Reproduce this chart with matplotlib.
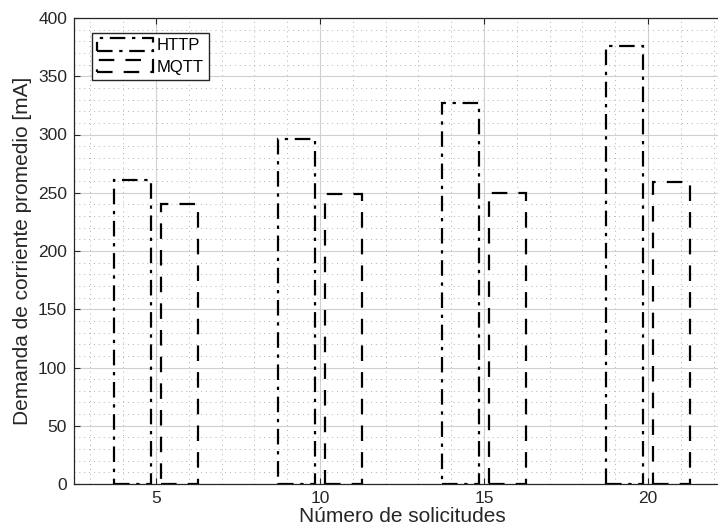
import matplotlib
matplotlib.use("Agg")
import matplotlib.pyplot as plt
import numpy as np
from matplotlib.ticker import MultipleLocator

# datos
solicitudes = [5, 10, 15, 20]
http = [261, 296, 327, 376]
mqtt = [240, 249, 250, 259]

plt.rcParams['font.family'] = ['Liberation Sans', 'DejaVu Sans']
gris = '#262626'

fig = plt.figure(figsize=(7.18, 5.30), dpi=100)
# el eje derecho queda recortado como en la imagen original
ax = fig.add_axes([74 / 718, 46 / 530, 656 / 718, 466 / 530])

x = np.array(solicitudes, dtype=float)
ancho = 5 * 0.8 * (2 / 3.5) / 2
desp = 5 * (2 / 3.5) / 4

ax.bar(x - desp, http, width=ancho, fill=False, edgecolor='black',
       linestyle=(0, (7, 3, 1.5, 3)), linewidth=1.6, label='HTTP', zorder=3)
ax.bar(x + desp, mqtt, width=ancho, fill=False, edgecolor='black',
       linestyle=(0, (7, 5)), linewidth=1.6, label='MQTT', zorder=3)

ax.set_xlim(2.5, 22.5)
ax.set_ylim(0, 400)
ax.set_xticks(solicitudes)
ax.set_yticks(range(0, 401, 50))
ax.xaxis.set_minor_locator(MultipleLocator(1))
ax.yaxis.set_minor_locator(MultipleLocator(10))

ax.grid(True, which='major', color='#d0d0d0', linestyle='-', linewidth=0.8)
ax.grid(True, which='minor', color='#b0b0b0', linestyle=(0, (1, 4)), linewidth=0.7)
ax.set_axisbelow(True)

ax.tick_params(which='major', direction='in', top=True, right=True, length=4,
               colors=gris, labelsize=12.5, width=0.8, pad=5)
ax.tick_params(which='minor', length=0)
for s in ax.spines.values():
    s.set_color(gris)
    s.set_linewidth(0.9)

ax.set_xlabel('Número de solicitudes', fontsize=15, color=gris, labelpad=1)
ax.set_ylabel('Demanda de corriente promedio [mA]', fontsize=15, color=gris, labelpad=4)

leg = ax.legend(loc='upper left', bbox_to_anchor=(0.027, 0.968), borderaxespad=0,
                fontsize=12, fancybox=False, framealpha=1, edgecolor=gris,
                handlelength=3.4, handleheight=0.8, handletextpad=0.2,
                borderpad=0.3, labelspacing=0.4)
leg.get_frame().set_linewidth(1.0)

fig.savefig("out.png", dpi=100)
